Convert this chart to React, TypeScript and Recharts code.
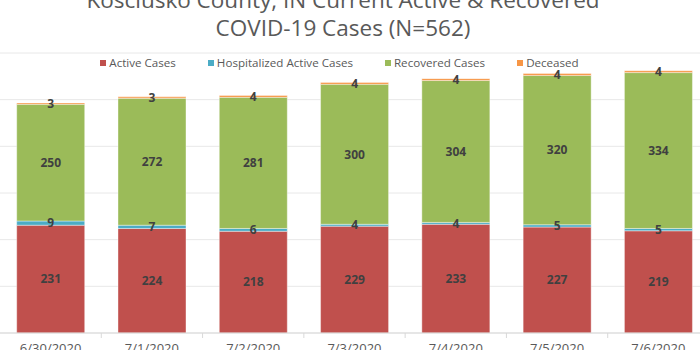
import { Bar, BarChart, CartesianGrid, LabelList, XAxis, YAxis } from "recharts";

const dates = ["6/30/2020", "7/1/2020", "7/2/2020", "7/3/2020", "7/4/2020", "7/5/2020", "7/6/2020"];
const activeCases = [231, 224, 218, 229, 233, 227, 219];
const hospitalized = [9, 7, 6, 4, 4, 5, 5];
const recovered = [250, 272, 281, 300, 304, 320, 334];
const deceased = [3, 3, 4, 4, 4, 4, 4];
const yTicks = [0, 100, 200, 300, 400, 500, 600];

const data = dates.map((date, i) => ({
  date,
  active: activeCases[i],
  hosp: hospitalized[i],
  recovered: recovered[i],
  deceased: deceased[i],
}));

const series = [
  { key: "active", name: "Active Cases", color: "#C0504D" },
  { key: "hosp", name: "Hospitalized Active Cases", color: "#4BACC6" },
  { key: "recovered", name: "Recovered Cases", color: "#9BBB59" },
  { key: "deceased", name: "Deceased", color: "#F79646" },
];

const W = 710;
const H = 350;
const marginL = 0;
const marginR = 1;
const band = (W - marginL - marginR) / dates.length;

const font = "'Open Sans', 'DejaVu Sans', sans-serif";
const labelStyle = { fill: "#404040", fontSize: 12, fontWeight: 700, fontFamily: font };

const DateTick = ({ x, y, payload }: any) => (
  <g>
    <line x1={x + band / 2} x2={x + band / 2} y1={y - 8} y2={y - 3} stroke="#d9d9d9" />
    <text x={x} y={y + 12} textAnchor="middle" fill="#595959" fontSize={13} fontFamily={font}>
      {payload.value}
    </text>
  </g>
);

// legend drawn as an overlay so it sits inside the plot like the original
const LegendBox = () => (
  <div
    style={{
      position: "absolute",
      top: 55,
      left: 0,
      width: 679,
      display: "flex",
      justifyContent: "center",
      gap: 32,
      fontFamily: font,
      fontSize: 11.6,
      color: "#595959",
      zIndex: 2,
    }}
  >
    {series.map((s) => (
      <span key={s.key} style={{ display: "flex", alignItems: "center" }}>
        <span style={{ width: 6, height: 6, background: s.color, marginRight: 3, display: "inline-block" }} />
        {s.name}
      </span>
    ))}
  </div>
);

export default function App() {
  return (
    <div style={{ position: "absolute", left: 0, top: 0, width: 700, height: H, overflow: "hidden", background: "#fff" }}>
      <div
        style={{
          position: "absolute",
          left: 0,
          width: 686,
          top: -14,
          textAlign: "center",
          color: "#595959",
          fontFamily: font,
          fontSize: 22.5,
          lineHeight: "28px",
          zIndex: 2,
        }}
      >
        Kosciusko County, IN Current Active &amp; Recovered
        <br />
        COVID-19 Cases (N=562)
      </div>
      <LegendBox />
      <BarChart width={W} height={H} data={data} margin={{ top: 53, right: marginR, bottom: 0, left: marginL }} barCategoryGap="16.5%">
        <CartesianGrid vertical={false} stroke="#e8e8e8" />
        <YAxis hide domain={[0, 600]} ticks={yTicks} />
        <XAxis dataKey="date" stroke="#d9d9d9" tickLine={false} interval={0} height={17} tick={<DateTick />} />
        {series.map((s) => (
          <Bar key={s.key} dataKey={s.key} name={s.name} stackId="a" fill={s.color} stroke="#fff" strokeWidth={0.4} isAnimationActive={false}>
            <LabelList dataKey={s.key} position="center" style={labelStyle} />
          </Bar>
        ))}
      </BarChart>
    </div>
  );
}
